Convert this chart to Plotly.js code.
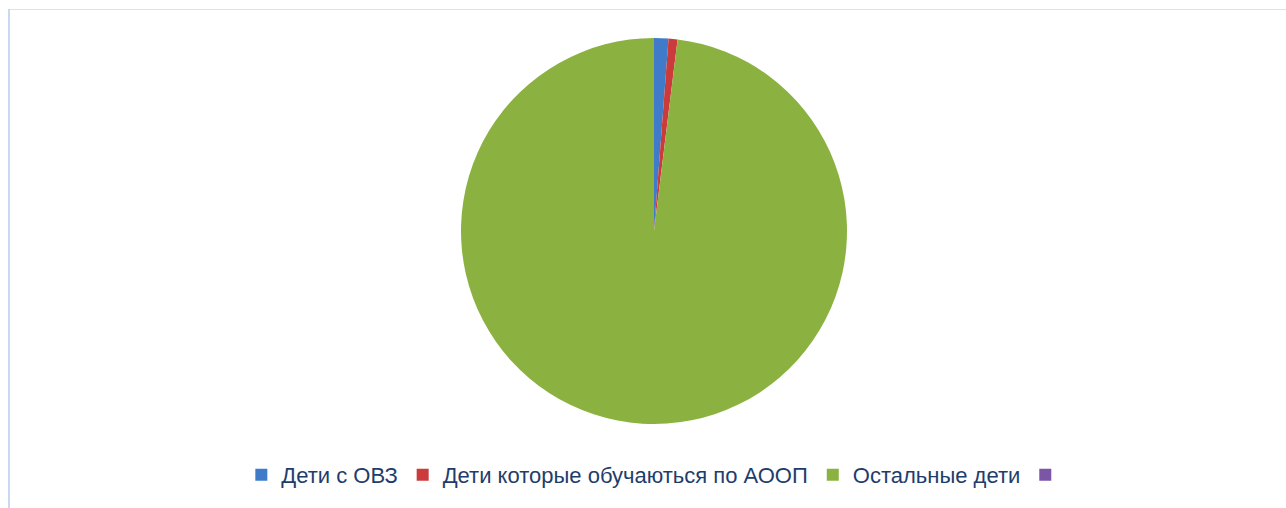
<!DOCTYPE html>
<html><head><meta charset="utf-8">
<script src="https://cdn.plot.ly/plotly-3.0.1.min.js"></script>
<style>html,body{margin:0;padding:0;background:#fff}#chart{width:1286px;height:508px}</style>
</head><body><div id="chart"></div>
<script>
const categories = ["Дети с ОВЗ", "Дети которые обучаються по АООП", "Остальные дети", ""];
const values = [1.2, 0.75, 98.05, 0];
const colors = ["#3F7BC8", "#CC3B3B", "#8BB241", "#7C55A6"];

const W = 1286, H = 508;
const cx = 654, cy = 231, r = 193;

const trace = {
  type: "pie",
  labels: categories.map((c, i) => c === "" ? " " : c),
  values: values,
  sort: false,
  direction: "clockwise",
  rotation: 0,
  textinfo: "none",
  hoverinfo: "label+value+percent",
  showlegend: true,
  marker: { colors: colors, line: { width: 0 } },
  domain: { x: [(cx - r) / W, (cx + r) / W], y: [1 - (cy + r) / H, 1 - (cy - r) / H] }
};

const layout = {
  width: W, height: H,
  margin: { l: 0, r: 0, t: 0, b: 0 },
  paper_bgcolor: "#ffffff",
  showlegend: true,
  legend: {
    orientation: "h", x: 0.5127, xanchor: "center", y: 1 - 475 / H, yanchor: "middle",
    font: { family: "Liberation Sans, sans-serif", size: 22, color: "#1F3D6B" },
    itemclick: false, traceorder: "normal", itemgap: 48
  },
  shapes: [
    { type: "line", xref: "paper", yref: "paper", x0: 8 / W, x1: 1, y0: 1 - 9.5 / H, y1: 1 - 9.5 / H, line: { color: "#DCE2E8", width: 1 } },
    { type: "line", xref: "paper", yref: "paper", x0: 9 / W, x1: 9 / W, y0: 0, y1: 1 - 9 / H, line: { color: "#C9DAF0", width: 2 } }
  ]
};

Plotly.newPlot("chart", [trace], layout, { displayModeBar: false, staticPlot: true });
</script></body></html>
